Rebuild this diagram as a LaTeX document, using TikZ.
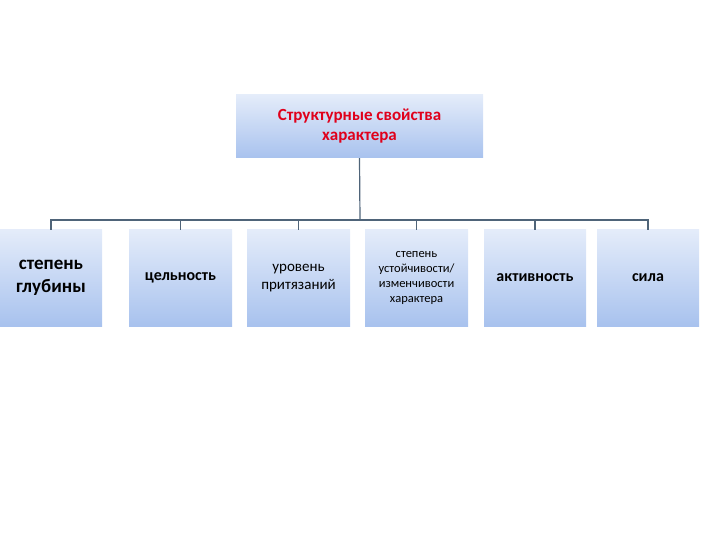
\documentclass[tikz,border=0pt]{standalone}
\usepackage{fontspec}
\setmainfont{Carlito}
\definecolor{btop}{HTML}{E4ECFA}
\definecolor{bbot}{HTML}{A8C2EE}
\definecolor{ln}{HTML}{4F6479}
\definecolor{tred}{HTML}{E0001B}
\begin{document}
\begin{tikzpicture}[x=1pt,y=-1pt,
  box/.style={top color=btop,bottom color=bbot,draw=none,inner sep=0pt,align=center,text=black},
  conn/.style={draw=ln,line width=1.2pt}]
\useasboundingbox (0,0) rectangle (720,540);
\node[box,minimum width=247pt,minimum height=63pt,text=tred,font=\bfseries\fontsize{17}{20}\selectfont] (top) at (359.5,126.5) {Структурные свойства\\характера};
\node[box,minimum width=102pt,minimum height=96pt,font=\bfseries\fontsize{19}{23}\selectfont] (b1) at (51,278) {степень\\глубины};
\node[box,minimum width=103pt,minimum height=96pt,font=\bfseries\fontsize{16}{19}\selectfont] (b2) at (180.5,278) {цельность};
\node[box,minimum width=103pt,minimum height=96pt,font=\fontsize{15}{18}\selectfont] (b3) at (298.5,278) {уровень\\притязаний};
\node[box,minimum width=103pt,minimum height=96pt,font=\fontsize{12.5}{15}\selectfont] (b4) at (416.5,278) {степень\\устойчивости/\\изменчивости\\характера};
\node[box,minimum width=102pt,minimum height=96pt,font=\bfseries\fontsize{16}{19}\selectfont] (b5) at (535,278) {активность};
\node[box,minimum width=102pt,minimum height=96pt,font=\bfseries\fontsize{16}{19}\selectfont] (b6) at (648,278) {сила};
\coordinate (bus) at (360,220);
\draw[conn] (top.south) -- (bus);
\draw[conn] (b1.north) -- (b1.north |- bus) -- (b6.north |- bus) -- (b6.north);
\foreach \b in {b2,b3,b4,b5} \draw[conn] (\b.north |- bus) -- (\b.north);
\end{tikzpicture}
\end{document}
